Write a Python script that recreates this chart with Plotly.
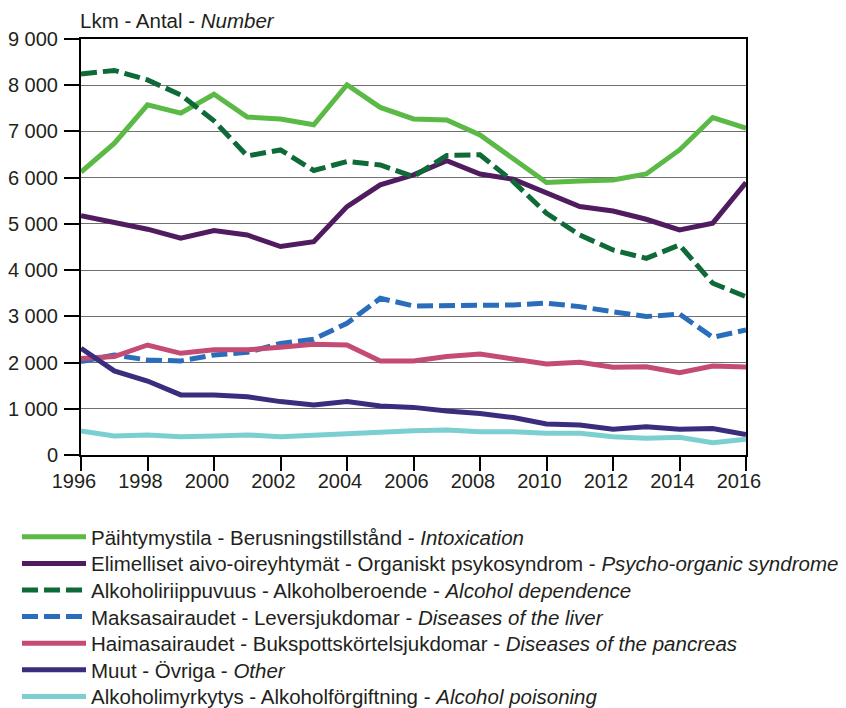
import plotly.graph_objects as go

years = list(range(1996, 2017))

intoxication = [6120, 6740, 7575, 7395, 7805, 7310, 7270, 7145, 8010, 7520,
                7270, 7250, 6925, 6420, 5895, 5930, 5950, 6080, 6600, 7300, 7070]
psycho_organic = [5175, 5030, 4885, 4690, 4855, 4760, 4510, 4615, 5375, 5845,
                  6060, 6365, 6080, 5965, 5665, 5375, 5280, 5100, 4870, 5015, 5895]
dependence = [8245, 8320, 8115, 7790, 7230, 6470, 6600, 6155, 6350, 6275,
              6025, 6480, 6495, 5915, 5230, 4760, 4435, 4255, 4545, 3715, 3425]
liver = [2020, 2165, 2055, 2035, 2165, 2220, 2415, 2505, 2850, 3390,
         3225, 3225, 3245, 3245, 3285, 3210, 3100, 2995, 3050, 2545, 2705]
pancreas = [2090, 2130, 2380, 2200, 2275, 2275, 2330, 2395, 2380, 2035,
            2035, 2130, 2185, 2070, 1970, 2005, 1900, 1910, 1780, 1925, 1905]
other = [2310, 1820, 1600, 1300, 1300, 1260, 1155, 1080, 1155, 1060,
         1030, 950, 900, 810, 670, 650, 555, 610, 555, 575, 440]
poisoning = [520, 410, 435, 395, 410, 435, 395, 435, 455, 490,
             525, 540, 505, 505, 470, 470, 395, 360, 385, 265, 340]

y_ticks = list(range(0, 9001, 1000))
y_tick_labels = ["0", "1 000", "2 000", "3 000", "4 000",
                 "5 000", "6 000", "7 000", "8 000", "9 000"]
x_ticks = list(range(1996, 2017, 2))

series = [
    ("Päihtymystila - Berusningstillstånd - <i>Intoxication</i>", intoxication, "#5BB946", "solid"),
    ("Elimelliset aivo-oireyhtymät - Organiskt psykosyndrom - <i>Psycho-organic syndrome</i>", psycho_organic, "#501C5F", "solid"),
    ("Alkoholiriippuvuus - Alkoholberoende - <i>Alcohol dependence</i>", dependence, "#0E6A37", "16px,6px"),
    ("Maksasairaudet - Leversjukdomar - <i>Diseases of the liver</i>", liver, "#2A6EBB", "16px,6px"),
    ("Haimasairaudet - Bukspottskörtelsjukdomar - <i>Diseases of the pancreas</i>", pancreas, "#C44C74", "solid"),
    ("Muut - Övriga - <i>Other</i>", other, "#3B2C7E", "solid"),
    ("Alkoholimyrkytys - Alkoholförgiftning - <i>Alcohol poisoning</i>", poisoning, "#7BCFD0", "solid"),
]

# The page body has an 8px margin, so the figure is 8px smaller each way.
W, H = 838, 700
font = "Liberation Sans, Arial, Helvetica, sans-serif"

fig = go.Figure()
legend_layouts = {}
for i, (name, vals, color, dash) in enumerate(series):
    lg = "legend" if i == 0 else f"legend{i + 1}"
    fig.add_trace(go.Scatter(x=years, y=vals, mode="lines", name=name,
                             legend=lg,
                             line=dict(color=color, width=5, dash=dash)))
    row_y = 529 + i * 26.6
    legend_layouts[lg] = dict(
        xref="container", yref="container",
        x=9 / W, xanchor="left", y=1 - row_y / H, yanchor="middle",
        font=dict(size=20.5, family=font, color="#231f20"),
        itemwidth=64, bgcolor="rgba(0,0,0,0)", borderwidth=0,
    )

fig.update_layout(
    width=W, height=H,
    margin=dict(l=73, r=100, t=31, b=253, autoexpand=False),
    plot_bgcolor="white", paper_bgcolor="white",
    font=dict(family=font, size=20, color="#231f20"),
    showlegend=True,
    xaxis=dict(range=[1996, 2016], tickvals=x_ticks, automargin=False,
               showgrid=False, showline=True, linecolor="black", linewidth=2,
               mirror=True, ticks="outside", ticklen=14, tickwidth=1.5,
               tickcolor="black", zeroline=False, ticklabelshift=-7,
               ticklabelstandoff=-7),
    yaxis=dict(range=[0, 9000], tickvals=y_ticks, ticktext=y_tick_labels,
               automargin=False,
               showgrid=True, gridcolor="#707070", gridwidth=1.2,
               showline=True, linecolor="black", linewidth=2, mirror=True,
               ticks="outside", ticklen=15, tickwidth=1.5, tickcolor="black",
               zeroline=False, ticklabelstandoff=2),
    **legend_layouts,
)
fig.add_annotation(text="Lkm - Antal - <i>Number</i>", xref="paper", yref="paper",
                   x=0, y=1, xanchor="left", yanchor="bottom", yshift=5, xshift=-3,
                   showarrow=False, font=dict(size=20.5))
fig.write_html("out.html")
